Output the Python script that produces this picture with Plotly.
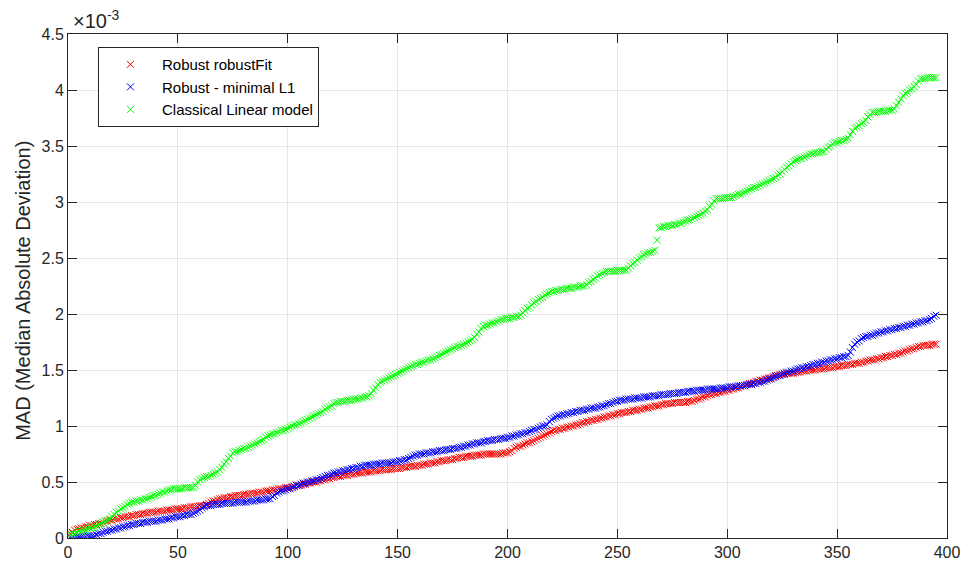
import plotly.graph_objects as go

# Median absolute deviation per sample (values in units of 1e-3), sorted ascending
mad_robustfit = [
    0.04, 0.05, 0.07, 0.08, 0.08, 0.09, 0.09, 0.10, 0.10, 0.11,
    0.11, 0.12, 0.12, 0.13, 0.13, 0.14, 0.15, 0.15, 0.16, 0.16,
    0.17, 0.17, 0.17, 0.18, 0.18, 0.19, 0.19, 0.19, 0.20, 0.20,
    0.21, 0.21, 0.21, 0.22, 0.22, 0.22, 0.23, 0.23, 0.23, 0.23,
    0.24, 0.24, 0.24, 0.24, 0.25, 0.25, 0.25, 0.25, 0.26, 0.26,
    0.26, 0.26, 0.27, 0.27, 0.27, 0.28, 0.28, 0.28, 0.28, 0.29,
    0.29, 0.29, 0.30, 0.31, 0.32, 0.33, 0.33, 0.34, 0.35, 0.35,
    0.36, 0.36, 0.36, 0.37, 0.37, 0.38, 0.38, 0.38, 0.38, 0.39,
    0.39, 0.39, 0.40, 0.40, 0.40, 0.40, 0.41, 0.41, 0.41, 0.42,
    0.42, 0.42, 0.43, 0.43, 0.43, 0.44, 0.44, 0.44, 0.45, 0.45,
    0.45, 0.46, 0.46, 0.47, 0.47, 0.47, 0.48, 0.48, 0.49, 0.49,
    0.50, 0.50, 0.50, 0.51, 0.51, 0.52, 0.52, 0.53, 0.53, 0.54,
    0.54, 0.55, 0.55, 0.55, 0.56, 0.56, 0.56, 0.57, 0.57, 0.57,
    0.58, 0.58, 0.58, 0.58, 0.59, 0.59, 0.59, 0.59, 0.60, 0.60,
    0.60, 0.60, 0.61, 0.61, 0.61, 0.61, 0.61, 0.62, 0.62, 0.62,
    0.62, 0.63, 0.63, 0.63, 0.64, 0.64, 0.64, 0.64, 0.65, 0.65,
    0.65, 0.66, 0.66, 0.66, 0.67, 0.67, 0.67, 0.68, 0.68, 0.69,
    0.69, 0.69, 0.70, 0.70, 0.70, 0.71, 0.71, 0.72, 0.72, 0.72,
    0.73, 0.73, 0.73, 0.73, 0.74, 0.74, 0.74, 0.74, 0.75, 0.75,
    0.75, 0.75, 0.75, 0.75, 0.75, 0.75, 0.75, 0.76, 0.76, 0.76,
    0.77, 0.78, 0.80, 0.81, 0.82, 0.82, 0.83, 0.84, 0.85, 0.85,
    0.86, 0.87, 0.88, 0.89, 0.90, 0.91, 0.92, 0.93, 0.94, 0.95,
    0.96, 0.96, 0.97, 0.97, 0.98, 0.98, 0.99, 0.99, 1.00, 1.00,
    1.01, 1.01, 1.02, 1.03, 1.03, 1.04, 1.04, 1.05, 1.05, 1.06,
    1.06, 1.07, 1.07, 1.08, 1.08, 1.09, 1.09, 1.10, 1.10, 1.11,
    1.11, 1.12, 1.12, 1.12, 1.13, 1.13, 1.14, 1.14, 1.14, 1.15,
    1.15, 1.16, 1.16, 1.16, 1.17, 1.17, 1.18, 1.18, 1.18, 1.19,
    1.19, 1.20, 1.20, 1.20, 1.20, 1.21, 1.21, 1.21, 1.21, 1.21,
    1.21, 1.22, 1.22, 1.22, 1.23, 1.24, 1.24, 1.25, 1.26, 1.26,
    1.27, 1.28, 1.28, 1.29, 1.29, 1.30, 1.30, 1.31, 1.31, 1.32,
    1.32, 1.33, 1.33, 1.34, 1.34, 1.35, 1.36, 1.36, 1.37, 1.38,
    1.38, 1.39, 1.40, 1.40, 1.41, 1.41, 1.42, 1.42, 1.43, 1.43,
    1.44, 1.45, 1.45, 1.46, 1.46, 1.46, 1.47, 1.47, 1.47, 1.47,
    1.48, 1.48, 1.48, 1.49, 1.49, 1.49, 1.50, 1.50, 1.50, 1.50,
    1.51, 1.51, 1.51, 1.51, 1.52, 1.52, 1.52, 1.52, 1.53, 1.53,
    1.53, 1.54, 1.54, 1.54, 1.55, 1.55, 1.55, 1.56, 1.56, 1.56,
    1.57, 1.57, 1.58, 1.58, 1.59, 1.59, 1.59, 1.60, 1.60, 1.61,
    1.61, 1.62, 1.62, 1.63, 1.63, 1.64, 1.64, 1.65, 1.65, 1.66,
    1.67, 1.67, 1.68, 1.69, 1.69, 1.70, 1.71, 1.71, 1.72, 1.72,
    1.72, 1.72, 1.73, 1.73, 1.73,
]

mad_minimal_l1 = [
    0.00, 0.00, 0.00, 0.01, 0.01, 0.01, 0.01, 0.01, 0.02, 0.02,
    0.02, 0.02, 0.03, 0.04, 0.04, 0.05, 0.06, 0.06, 0.07, 0.07,
    0.08, 0.08, 0.09, 0.09, 0.10, 0.10, 0.11, 0.11, 0.12, 0.12,
    0.13, 0.13, 0.13, 0.14, 0.14, 0.14, 0.15, 0.15, 0.15, 0.15,
    0.16, 0.16, 0.16, 0.17, 0.17, 0.17, 0.18, 0.18, 0.19, 0.19,
    0.19, 0.20, 0.20, 0.21, 0.21, 0.21, 0.22, 0.23, 0.24, 0.25,
    0.27, 0.28, 0.29, 0.29, 0.29, 0.30, 0.30, 0.30, 0.30, 0.31,
    0.31, 0.31, 0.31, 0.31, 0.31, 0.32, 0.32, 0.32, 0.32, 0.32,
    0.32, 0.33, 0.33, 0.33, 0.33, 0.34, 0.34, 0.34, 0.34, 0.35,
    0.35, 0.35, 0.37, 0.38, 0.40, 0.41, 0.42, 0.42, 0.43, 0.44,
    0.44, 0.45, 0.46, 0.47, 0.47, 0.48, 0.49, 0.49, 0.50, 0.50,
    0.51, 0.51, 0.52, 0.52, 0.53, 0.54, 0.55, 0.56, 0.56, 0.57,
    0.58, 0.58, 0.59, 0.59, 0.60, 0.60, 0.61, 0.61, 0.62, 0.62,
    0.63, 0.63, 0.64, 0.64, 0.65, 0.65, 0.65, 0.65, 0.66, 0.66,
    0.66, 0.66, 0.67, 0.67, 0.67, 0.67, 0.67, 0.68, 0.68, 0.68,
    0.69, 0.69, 0.70, 0.70, 0.71, 0.72, 0.73, 0.74, 0.74, 0.75,
    0.75, 0.75, 0.76, 0.76, 0.76, 0.77, 0.77, 0.77, 0.78, 0.78,
    0.78, 0.79, 0.79, 0.79, 0.80, 0.80, 0.80, 0.81, 0.81, 0.82,
    0.82, 0.83, 0.83, 0.84, 0.84, 0.85, 0.85, 0.85, 0.86, 0.86,
    0.87, 0.87, 0.87, 0.88, 0.88, 0.88, 0.89, 0.89, 0.89, 0.90,
    0.90, 0.91, 0.91, 0.92, 0.92, 0.93, 0.93, 0.94, 0.94, 0.95,
    0.96, 0.97, 0.97, 0.98, 0.99, 1.00, 1.00, 1.01, 1.04, 1.06,
    1.07, 1.08, 1.09, 1.09, 1.10, 1.10, 1.11, 1.11, 1.12, 1.12,
    1.13, 1.13, 1.14, 1.14, 1.14, 1.15, 1.15, 1.16, 1.16, 1.16,
    1.17, 1.17, 1.18, 1.18, 1.19, 1.20, 1.20, 1.21, 1.22, 1.22,
    1.23, 1.23, 1.23, 1.24, 1.24, 1.24, 1.24, 1.25, 1.25, 1.25,
    1.25, 1.26, 1.26, 1.26, 1.26, 1.27, 1.27, 1.27, 1.27, 1.28,
    1.28, 1.28, 1.28, 1.29, 1.29, 1.29, 1.29, 1.30, 1.30, 1.30,
    1.30, 1.31, 1.31, 1.31, 1.31, 1.32, 1.32, 1.32, 1.32, 1.32,
    1.33, 1.33, 1.33, 1.33, 1.33, 1.33, 1.34, 1.34, 1.34, 1.34,
    1.35, 1.35, 1.35, 1.35, 1.36, 1.36, 1.36, 1.36, 1.37, 1.37,
    1.37, 1.38, 1.38, 1.39, 1.39, 1.40, 1.40, 1.41, 1.42, 1.42,
    1.43, 1.44, 1.45, 1.45, 1.46, 1.47, 1.48, 1.48, 1.49, 1.49,
    1.50, 1.51, 1.51, 1.52, 1.52, 1.53, 1.53, 1.54, 1.55, 1.55,
    1.56, 1.56, 1.57, 1.57, 1.58, 1.58, 1.59, 1.59, 1.60, 1.60,
    1.61, 1.61, 1.62, 1.62, 1.63, 1.66, 1.70, 1.73, 1.75, 1.76,
    1.78, 1.79, 1.80, 1.80, 1.81, 1.81, 1.82, 1.83, 1.83, 1.84,
    1.84, 1.85, 1.85, 1.86, 1.86, 1.87, 1.87, 1.88, 1.88, 1.89,
    1.89, 1.90, 1.90, 1.91, 1.91, 1.92, 1.92, 1.93, 1.93, 1.94,
    1.94, 1.95, 1.96, 1.98, 1.99,
]

mad_classical = [
    0.03, 0.04, 0.04, 0.05, 0.06, 0.06, 0.07, 0.07, 0.08, 0.09,
    0.09, 0.10, 0.11, 0.12, 0.13, 0.14, 0.15, 0.16, 0.17, 0.19,
    0.21, 0.23, 0.24, 0.26, 0.27, 0.28, 0.30, 0.31, 0.32, 0.32,
    0.33, 0.33, 0.34, 0.34, 0.35, 0.35, 0.36, 0.37, 0.38, 0.38,
    0.39, 0.40, 0.41, 0.41, 0.42, 0.43, 0.43, 0.44, 0.44, 0.44,
    0.44, 0.44, 0.45, 0.45, 0.45, 0.45, 0.45, 0.47, 0.50, 0.52,
    0.53, 0.54, 0.55, 0.55, 0.56, 0.57, 0.58, 0.59, 0.61, 0.63,
    0.66, 0.68, 0.71, 0.73, 0.76, 0.77, 0.77, 0.78, 0.79, 0.80,
    0.80, 0.81, 0.82, 0.83, 0.84, 0.85, 0.86, 0.87, 0.88, 0.90,
    0.91, 0.92, 0.93, 0.93, 0.94, 0.95, 0.96, 0.96, 0.97, 0.98,
    0.99, 1.00, 1.01, 1.01, 1.02, 1.03, 1.04, 1.05, 1.06, 1.07,
    1.08, 1.09, 1.10, 1.11, 1.12, 1.13, 1.15, 1.16, 1.17, 1.18,
    1.20, 1.21, 1.21, 1.22, 1.22, 1.22, 1.23, 1.23, 1.23, 1.24,
    1.24, 1.24, 1.25, 1.25, 1.26, 1.26, 1.27, 1.29, 1.32, 1.34,
    1.37, 1.39, 1.40, 1.41, 1.42, 1.43, 1.44, 1.45, 1.46, 1.47,
    1.48, 1.49, 1.50, 1.51, 1.52, 1.53, 1.54, 1.55, 1.55, 1.56,
    1.57, 1.57, 1.58, 1.59, 1.59, 1.60, 1.61, 1.62, 1.63, 1.64,
    1.65, 1.66, 1.67, 1.68, 1.69, 1.70, 1.71, 1.71, 1.72, 1.73,
    1.74, 1.75, 1.76, 1.77, 1.79, 1.82, 1.84, 1.87, 1.89, 1.90,
    1.90, 1.91, 1.92, 1.92, 1.93, 1.94, 1.95, 1.95, 1.96, 1.96,
    1.96, 1.97, 1.97, 1.98, 1.98, 1.99, 2.01, 2.03, 2.05, 2.06,
    2.08, 2.10, 2.11, 2.13, 2.14, 2.15, 2.17, 2.18, 2.19, 2.20,
    2.20, 2.21, 2.21, 2.22, 2.22, 2.22, 2.23, 2.23, 2.23, 2.24,
    2.24, 2.24, 2.25, 2.25, 2.25, 2.26, 2.28, 2.29, 2.31, 2.32,
    2.34, 2.35, 2.36, 2.37, 2.38, 2.38, 2.38, 2.38, 2.38, 2.39,
    2.39, 2.39, 2.39, 2.39, 2.41, 2.43, 2.45, 2.46, 2.48, 2.50,
    2.51, 2.53, 2.54, 2.55, 2.55, 2.56, 2.57, 2.66, 2.77, 2.77,
    2.78, 2.78, 2.79, 2.79, 2.79, 2.80, 2.80, 2.81, 2.81, 2.82,
    2.83, 2.84, 2.84, 2.85, 2.86, 2.87, 2.88, 2.89, 2.90, 2.92,
    2.93, 2.96, 2.98, 3.01, 3.03, 3.03, 3.03, 3.03, 3.04, 3.04,
    3.04, 3.04, 3.05, 3.06, 3.07, 3.07, 3.08, 3.09, 3.10, 3.11,
    3.12, 3.13, 3.13, 3.14, 3.15, 3.16, 3.17, 3.18, 3.19, 3.20,
    3.21, 3.22, 3.24, 3.25, 3.27, 3.29, 3.31, 3.32, 3.34, 3.36,
    3.37, 3.38, 3.39, 3.39, 3.40, 3.41, 3.42, 3.43, 3.43, 3.44,
    3.44, 3.44, 3.45, 3.45, 3.47, 3.49, 3.50, 3.52, 3.53, 3.53,
    3.54, 3.55, 3.55, 3.56, 3.57, 3.60, 3.63, 3.66, 3.67, 3.68,
    3.70, 3.71, 3.73, 3.76, 3.78, 3.80, 3.80, 3.80, 3.81, 3.81,
    3.81, 3.81, 3.82, 3.82, 3.82, 3.83, 3.86, 3.89, 3.92, 3.95,
    3.97, 3.98, 4.00, 4.01, 4.03, 4.05, 4.08, 4.10, 4.10, 4.10,
    4.11, 4.11, 4.11, 4.11, 4.11,
]

series_names = ["Robust robustFit", "Robust - minimal L1", "Classical Linear model"]
series_colors = ["#FF0000", "#0000FF", "#00FF00"]
series_values = [mad_robustfit, mad_minimal_l1, mad_classical]

x_ticks = [0, 50, 100, 150, 200, 250, 300, 350, 400]
y_ticks = [0, 0.5, 1, 1.5, 2, 2.5, 3, 3.5, 4, 4.5]
y_tick_text = ["0", "0.5", "1", "1.5", "2", "2.5", "3", "3.5", "4", "4.5"]

FONT = "Liberation Sans, Arial, Helvetica, sans-serif"
AXIS_COLOR = "#262626"
GRID_COLOR = "#e6e6e6"

fig = go.Figure()
for name, color, values in zip(series_names, series_colors, series_values):
    sample = list(range(1, len(values) + 1))
    fig.add_trace(go.Scatter(
        x=sample,
        y=values,
        mode="markers",
        name=name,
        marker=dict(symbol="x-thin", size=7, color=color,
                    line=dict(color=color, width=1)),
    ))

axis_common = dict(
    showline=True,
    linecolor=AXIS_COLOR,
    linewidth=1,
    mirror="ticks",
    ticks="inside",
    ticklen=9,
    tickwidth=1,
    tickcolor=AXIS_COLOR,
    showgrid=True,
    gridcolor=GRID_COLOR,
    gridwidth=1,
    zeroline=False,
    automargin=False,
    tickfont=dict(family=FONT, size=16, color=AXIS_COLOR),
)

fig.update_xaxes(range=[0, 400], tickvals=x_ticks, **axis_common)
fig.update_yaxes(range=[0, 4.5], tickvals=y_ticks, ticktext=y_tick_text, **axis_common)

fig.update_layout(
    width=963,
    height=565,
    margin=dict(l=68, r=16, t=34, b=27, autoexpand=False),
    paper_bgcolor="white",
    plot_bgcolor="white",
    showlegend=True,
    legend=dict(
        x=0.0341, y=0.974, xanchor="left", yanchor="top",
        bgcolor="white", bordercolor=AXIS_COLOR, borderwidth=1,
        font=dict(family=FONT, size=15, color="#000000"),
        itemwidth=53,
    ),
    annotations=[
        dict(
            text="MAD (Median Absolute Deviation)",
            xref="paper", yref="paper", x=-0.0506, y=0.4895,
            xanchor="center", yanchor="middle", textangle=-90,
            showarrow=False,
            font=dict(family=FONT, size=20, color=AXIS_COLOR),
        ),
        dict(
            text="×10<sup>-3</sup>",
            xref="paper", yref="paper", x=0.003, y=1.0,
            xanchor="left", yanchor="bottom",
            showarrow=False,
            font=dict(family=FONT, size=20, color=AXIS_COLOR),
        ),
    ],
)

fig.write_html("out.html")
